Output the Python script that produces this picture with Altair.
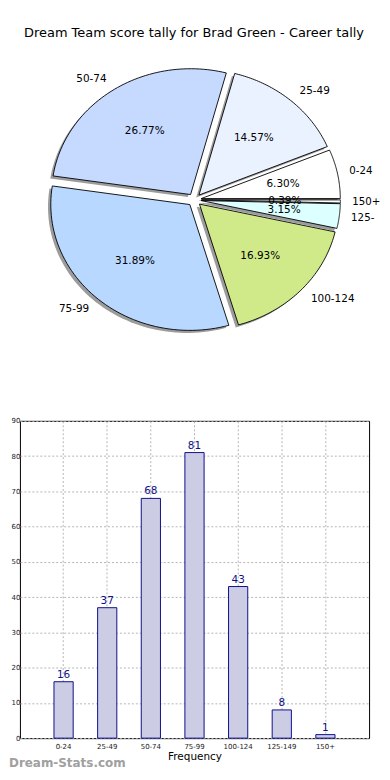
import altair as alt
import pandas as pd

# ---- data ----
categories = ["0-24", "25-49", "50-74", "75-99", "100-124", "125-149", "150+"]
counts = [16, 37, 68, 81, 43, 8, 1]
slice_colors = ["#ffffff", "#eaf1ff", "#c6d9ff", "#b8d8ff", "#d0ea8a", "#dcffff", "#ffffff"]
title_text = "Dream Team score tally for Brad Green - Career tally"
watermark = "Dream-Stats.com"

df = pd.DataFrame({"cat": categories, "count": counts, "idx": list(range(len(categories)))})

FONT = "DejaVu Sans"
EXPLODE = 0.05
NSEG = 60

# ---- pie panel ----
PW, PH = 363, 402
xsc = alt.Scale(domain=[-1.2547, 1.3419], nice=False, zero=False)
ysc = alt.Scale(domain=[-1.6775, 1.5004], nice=False, zero=False)

pie_base = (
    alt.Chart(df)
    .transform_joinaggregate(total="sum(count)")
    .transform_window(cum="sum(count)", sort=[alt.SortField("idx")])
    .transform_calculate(
        a0="2*PI*(datum.cum - datum.count)/datum.total",
        a1="2*PI*datum.cum/datum.total",
    )
    .transform_calculate(mid="(datum.a0 + datum.a1)/2")
    .transform_calculate(
        ex=f"{EXPLODE}*cos(datum.mid)",
        ey=f"{EXPLODE}*sin(datum.mid)",
    )
)

poly = (
    pie_base.transform_calculate(steps=f"sequence(0, {NSEG + 2})")
    .transform_flatten(["steps"], as_=["step"])
    .transform_calculate(ang=f"datum.a0 + (datum.a1 - datum.a0)*(datum.step - 1)/{NSEG}")
    .transform_calculate(
        px="datum.ex + (datum.step == 0 ? 0 : cos(datum.ang))",
        py="datum.ey + (datum.step == 0 ? 0 : sin(datum.ang))",
    )
)

shadow = poly.transform_calculate(
    sx="datum.px - 0.02", sy="datum.py - 0.02"
).mark_line(interpolate="linear-closed", filled=True, fill="#9c9c9c", strokeOpacity=0, strokeWidth=0).encode(
    x=alt.X("sx:Q", scale=xsc, axis=None),
    y=alt.Y("sy:Q", scale=ysc, axis=None),
    detail="cat:N",
    order=alt.Order("step:Q"),
)

wedges = poly.mark_line(interpolate="linear-closed", filled=True, stroke="#000000", strokeWidth=0.9).encode(
    x=alt.X("px:Q", scale=xsc, axis=None),
    y=alt.Y("py:Q", scale=ysc, axis=None),
    color=alt.Color("cat:N", scale=alt.Scale(domain=categories, range=slice_colors), legend=None),
    order=alt.Order("step:Q"),
)

pct = pie_base.transform_calculate(
    tx="datum.ex + 0.6*cos(datum.mid)",
    ty="datum.ey + 0.6*sin(datum.mid)",
    pct="format(datum.count/datum.total*100, '.2f') + '%'",
).mark_text(font=FONT, fontSize=10.5, color="#000000", align="center", baseline="middle").encode(
    x=alt.X("tx:Q", scale=xsc, axis=None),
    y=alt.Y("ty:Q", scale=ysc, axis=None),
    text="pct:N",
)

lab_base = pie_base.transform_calculate(
    lx="datum.ex + 1.1*cos(datum.mid)",
    ly="datum.ey + 1.1*sin(datum.mid)",
)
lab_enc = dict(
    x=alt.X("lx:Q", scale=xsc, axis=None),
    y=alt.Y("ly:Q", scale=ysc, axis=None),
    text="cat:N",
)
# right-hand labels near the panel edge are cut at the edge, as in the original
lab_far = lab_base.transform_filter("datum.lx > 1").mark_text(
    font=FONT, fontSize=10.3, color="#000000", align="left", baseline="middle",
    limit=28.5, ellipsis=" ", dx=-2,
).encode(**lab_enc)
lab_right = lab_base.transform_filter("datum.lx > 0 && datum.lx <= 1").mark_text(
    font=FONT, fontSize=10.5, color="#000000", align="left", baseline="middle"
).encode(**lab_enc)
lab_left = lab_base.transform_filter("datum.lx <= 0").mark_text(
    font=FONT, fontSize=10.5, color="#000000", align="right", baseline="middle"
).encode(**lab_enc)

title = alt.Chart(pd.DataFrame({"t": [title_text]})).mark_text(
    font=FONT, fontSize=13, color="#000000", align="center", baseline="middle"
).encode(x=alt.value(175), y=alt.value(22), text="t:N")

pie = alt.layer(shadow, wedges, pct, lab_far, lab_right, lab_left, title).properties(
    width=PW, height=PH, view=alt.ViewBackground(stroke="transparent")
)

# ---- bar panel ----
grid_dash = [2, 2]
x_enc = alt.X(
    "cat:N",
    sort=categories,
    scale=alt.Scale(paddingInner=0.56, paddingOuter=0.78),
    axis=alt.Axis(
        title="Frequency", labelAngle=0, labelFont=FONT, labelFontSize=7, labelColor="#222222",
        labelPadding=4, ticks=False, domain=False, grid=True, gridDash=grid_dash,
        gridColor="#b4b4b4", titleFont=FONT, titleFontSize=10.5, titleFontWeight="normal",
        titleColor="#000000", titlePadding=2, labelOverlap=False,
    ),
)
y_enc = alt.Y(
    "count:Q",
    scale=alt.Scale(domain=[0, 90], nice=False),
    axis=alt.Axis(
        title=None, values=list(range(0, 91, 10)), labelFont=FONT, labelFontSize=7,
        labelColor="#222222", labelPadding=0, ticks=False, domain=False, grid=True,
        gridDash=grid_dash, gridColor="#b4b4b4", minExtent=11, maxExtent=11,
        labelOverlap=False, labelFlush=False,
    ),
)
bars = alt.Chart(df).mark_bar(fill="#ccccE4", stroke="#10108a", strokeWidth=1).encode(x=x_enc, y=y_enc)
bar_labels = alt.Chart(df).mark_text(
    font=FONT, fontSize=10.5, color="#10108a", baseline="bottom", dy=-2
).encode(x=x_enc, y=y_enc, text="count:Q")
wm = alt.Chart(pd.DataFrame({"t": [watermark]})).mark_text(
    font=FONT, fontSize=12, fontWeight="bold", color="#a0a0a0", align="left", baseline="middle"
).encode(x=alt.value(-11), y=alt.value(344), text="t:N")

bar_chart = alt.layer(bars, bar_labels, wm).properties(
    width=351, height=319, view=alt.ViewBackground(stroke="#000000", strokeWidth=1)
)

chart = (
    alt.vconcat(pie, bar_chart, spacing=4)
    .properties(padding=0)
    .configure_view(stroke="transparent")
)

chart.save("out.html", embed_options={"renderer": "svg", "actions": False})
